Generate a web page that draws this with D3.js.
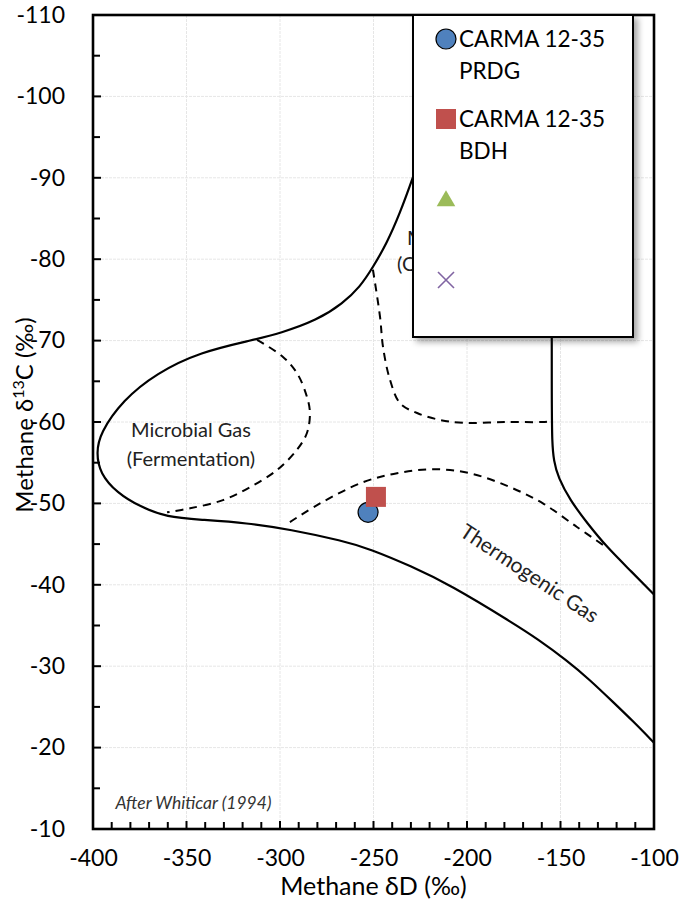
<!DOCTYPE html>
<html><head><meta charset="utf-8">
<script src="https://cdn.jsdelivr.net/npm/d3@7/dist/d3.min.js"></script>
<style>body{margin:0;background:#fff}svg{display:block}text{font-family:Lato,"Open Sans",sans-serif}</style>
</head><body><div id="chart"></div>
<script>
const xDomain = [-400, -100];
const yDomain = [-10, -110];
const xTicks = [-400, -350, -300, -250, -200, -150, -100];
const yTicks = [-110, -100, -90, -80, -70, -60, -50, -40, -30, -20, -10];

// Whiticar (1994) field boundaries, traced [deltaD, delta13C]
const outerBoundary = [[-205,-110],[-212,-102],[-220,-96],[-229.4,-89.7],[-235.8,-85.7],[-242.8,-82.0],[-250.3,-79.0],[-257.2,-76.6],[-266.3,-74.6],[-280.2,-72.5],[-300,-70.9],[-314,-70.1],[-342.8,-68.6],[-366,-66],[-384,-62.7],[-396.3,-58.6],[-398.2,-56.2],[-396.3,-53.7],[-387.2,-51.3],[-374.9,-49.6],[-360.4,-48.3],[-342.8,-48.0],[-317.6,-47.6],[-294.7,-46.8],[-266.3,-45.4],[-251.9,-44.4],[-230,-42.3],[-209.1,-40.0],[-175.4,-35.3],[-162.6,-33.4],[-146.5,-30.7],[-134.2,-28.3],[-121.9,-25.6],[-111,-23.2],[-100,-20.6]];
const rightBoundary = [[-154.7,-110],[-154.7,-85],[-154.7,-62],[-154.5,-57.5],[-153.6,-55.2],[-151.3,-53.2],[-144.9,-50.4],[-135.8,-47.6],[-125.1,-44.6],[-112.8,-41.8],[-100,-38.8]];
const fermentationDash = [[-312.3,-70.1],[-298.4,-68.0],[-290.9,-66.0],[-285.6,-63.1],[-284.0,-61.1],[-285.6,-58.65],[-290.9,-56.6],[-301.6,-54.1],[-316.0,-52.0],[-330.5,-50.4],[-348.1,-49.4],[-360.4,-48.9]];
const co2Dash = [[-250.3,-78.7],[-246.5,-72.9],[-244.9,-69.2],[-241.2,-65.2],[-235.8,-62.3],[-226.7,-61.1],[-214.4,-60.25],[-202.1,-59.9],[-180,-60],[-159.4,-60.0],[-154.7,-60.1]];
const thermoDash = [[-294.7,-47.7],[-278.6,-50.0],[-255.6,-52.6],[-237.4,-53.7],[-218.2,-54.2],[-198.4,-53.7],[-177.0,-52.0],[-159.4,-50.0],[-141.2,-47.1],[-127.3,-44.9]];

const seriesNames = [["CARMA 12-35","PRDG"],["CARMA 12-35","BDH"],[""],[""]];
const seriesPoints = [[[-252.9,-48.9]],[[-248.7,-50.8]],[],[]];
const seriesColors = ["#4F81BD","#C0504D","#9BBB59","#8064A2"];

const W = 680, H = 907;
const m = {left:93, right:26, top:15, bottom:78};
const svg = d3.select("#chart").append("svg").attr("width",W).attr("height",H);
const x = d3.scaleLinear().domain(xDomain).range([m.left, W-m.right]);
const y = d3.scaleLinear().domain(yDomain).range([H-m.bottom, m.top]);

const defs = svg.append("defs");
defs.append("clipPath").attr("id","clip").append("rect")
  .attr("x",m.left).attr("y",m.top).attr("width",W-m.left-m.right).attr("height",H-m.top-m.bottom);
const f = defs.append("filter").attr("id","sh").attr("x","-10%").attr("y","-10%").attr("width","130%").attr("height","130%");
f.append("feDropShadow").attr("dx",4).attr("dy",4).attr("stdDeviation",3).attr("flood-color","#000").attr("flood-opacity",0.35);

// gridlines
const grid = svg.append("g");
grid.selectAll(".gx").data(xTicks.slice(1,-1)).join("line")
  .attr("x1",d=>x(d)).attr("x2",d=>x(d)).attr("y1",y(-110)).attr("y2",y(-10))
  .attr("stroke","#e6e6e6").attr("stroke-width",1).attr("stroke-dasharray","3,1");
grid.selectAll(".gy").data(yTicks.slice(1,-1)).join("line")
  .attr("y1",d=>y(d)).attr("y2",d=>y(d)).attr("x1",x(-400)).attr("x2",x(-100))
  .attr("stroke","#e6e6e6").attr("stroke-width",1).attr("stroke-dasharray","3,1");

const smooth = d3.line().x(d=>x(d[0])).y(d=>y(d[1])).curve(d3.curveBasis);
const line = d3.line().x(d=>x(d[0])).y(d=>y(d[1])).curve(d3.curveCatmullRom.alpha(0.5));
const cg = svg.append("g").attr("clip-path","url(#clip)");
[outerBoundary, rightBoundary].forEach(p=>{
  cg.append("path").attr("d",smooth(p)).attr("fill","none").attr("stroke","#000").attr("stroke-width",2.2);
});
[fermentationDash, co2Dash, thermoDash].forEach(p=>{
  cg.append("path").attr("d",line(p)).attr("fill","none").attr("stroke","#000").attr("stroke-width",2).attr("stroke-dasharray","8,6");
});

// region labels
const lab = svg.append("g").attr("fill","#222").attr("font-size",20);
lab.append("text").attr("x",x(-347.6)).attr("y",y(-58.16)).attr("text-anchor","middle").text("Microbial Gas");
lab.append("text").attr("x",x(-347.6)).attr("y",y(-54.6)).attr("text-anchor","middle").text("(Fermentation)");
lab.append("text").attr("x",x(-232.1)).attr("y",y(-81.7)).text("Microbial Gas");
lab.append("text").attr("x",x(-237.4)).attr("y",y(-78.55)).text("(CO\u2082 Reduction)");
lab.append("text").attr("transform",`translate(${x(-204.5)},${y(-46.1)}) rotate(33.5)`).attr("font-size",21).text("Thermogenic Gas");
svg.append("text").attr("x",x(-388)).attr("y",y(-12.46)).attr("font-size",17.5).attr("font-style","italic").attr("fill","#333").text("After Whiticar (1994)");

// markers
function drawMarker(g, i, cx, cy){
  if(i===0) g.append("circle").attr("cx",cx).attr("cy",cy).attr("r",10).attr("fill",seriesColors[0]).attr("stroke","#000").attr("stroke-width",1.2);
  else if(i===1) g.append("rect").attr("x",cx-10).attr("y",cy-10).attr("width",20).attr("height",20).attr("fill",seriesColors[1]);
  else if(i===2) g.append("path").attr("d",d3.symbol().type(d3.symbolTriangle).size(150)()).attr("transform",`translate(${cx},${cy+1})`).attr("fill",seriesColors[2]);
  else { const s=8; g.append("path").attr("d",`M${cx-s},${cy-s}L${cx+s},${cy+s}M${cx+s},${cy-s}L${cx-s},${cy+s}`).attr("stroke",seriesColors[3]).attr("stroke-width",1.6).attr("fill","none"); }
}
const pg = svg.append("g");
seriesPoints.forEach((pts,i)=>pts.forEach(p=>drawMarker(pg,i,x(p[0]),y(p[1]))));

// axes
const fmt = d => String(d);
const xAxis = d3.axisBottom(x).tickValues(xTicks).tickSize(0).tickPadding(21).tickFormat(fmt);
const gx = svg.append("g").attr("transform",`translate(0,${y(-10)})`).call(xAxis);
gx.select(".domain").remove();
gx.selectAll("text").attr("font-size",23).attr("fill","#000").attr("font-family","Lato,sans-serif");
const yAxis = d3.axisLeft(y).tickValues(yTicks).tickSize(0).tickPadding(28).tickFormat(fmt);
const gy = svg.append("g").attr("transform",`translate(${x(-400)},0)`).call(yAxis);
gy.select(".domain").remove();
gy.selectAll("text").attr("font-size",23).attr("fill","#000").attr("font-family","Lato,sans-serif");

// inside ticks
const tk = svg.append("g").attr("stroke","#000").attr("stroke-width",2);
tk.selectAll(".xt").data(d3.range(-390,-100,10)).join("line")
  .attr("x1",d=>x(d)).attr("x2",d=>x(d)).attr("y1",y(-10)).attr("y2",d=>y(-10)-(d%50===0?8:7));
tk.selectAll(".yt").data(d3.range(-105,-10,5)).join("line")
  .attr("y1",d=>y(d)).attr("y2",d=>y(d)).attr("x1",x(-400)).attr("x2",d=>x(-400)+(d%10===0?8:7));

// plot frame
svg.append("rect").attr("x",x(-400)).attr("y",y(-110)).attr("width",x(-100)-x(-400)).attr("height",y(-10)-y(-110))
  .attr("fill","none").attr("stroke","#000").attr("stroke-width",2.6);

// axis titles
svg.append("text").attr("x",(x(-400)+x(-100))/2).attr("y",H-12).attr("text-anchor","middle").attr("font-size",25)
  .text("Methane \u03B4D (\u2030)");
const yt = svg.append("text").attr("transform",`translate(33,${(y(-110)+y(-10))/2 - 7}) rotate(-90)`).attr("text-anchor","middle").attr("font-size",24);
yt.append("tspan").text("Methane \u03B4");
yt.append("tspan").attr("dy",-9).attr("font-size",16).text("13");
yt.append("tspan").attr("dy",9).text("C (\u2030)");

// legend
const lg = svg.append("g");
lg.append("rect").attr("x",413).attr("y",y(-110)).attr("width",220).attr("height",322)
  .attr("fill","#fff").attr("stroke","#000").attr("stroke-width",2).attr("filter","url(#sh)");
const rowY = [39,119,200,280];
seriesNames.forEach((nm,i)=>{
  drawMarker(lg,i,446,rowY[i]);
  nm.forEach((t,j)=>{
    if(t) lg.append("text").attr("x",459).attr("y",rowY[i]+8+j*31.5).attr("font-size",22.5).attr("fill","#000").text(t);
  });
});
</script></body></html>
